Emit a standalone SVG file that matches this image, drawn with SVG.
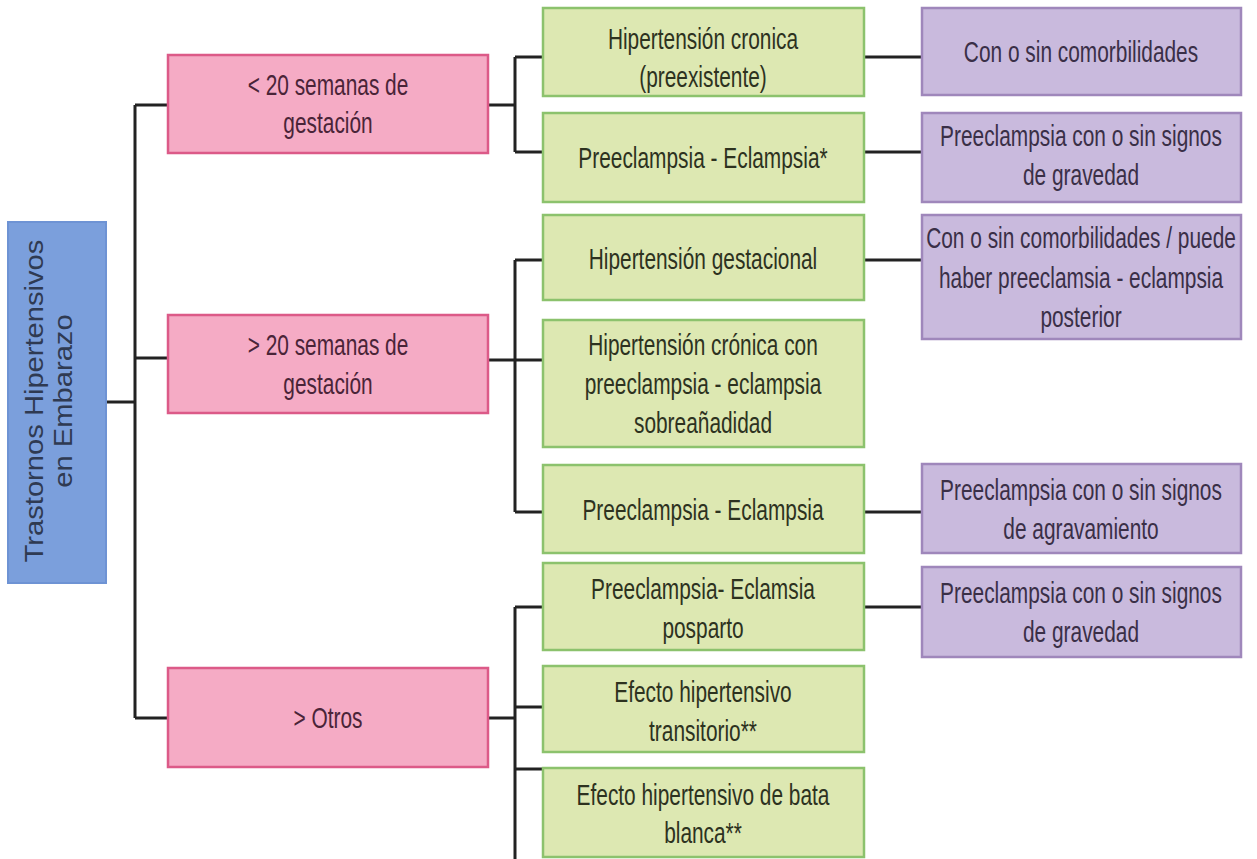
<svg xmlns="http://www.w3.org/2000/svg" width="1257" height="859" viewBox="0 0 1257 859">
<style>
.t{font-family:"Liberation Sans",Arial,sans-serif;font-size:29px;text-anchor:middle}
.blue{fill:#7b9fdc;stroke:#6e93d4;stroke-width:2}
.pink{fill:#f5abc5;stroke:#dc5a88;stroke-width:2.5}
.green{fill:#dde8b2;stroke:#8cc26d;stroke-width:2.5}
.purple{fill:#c9badd;stroke:#9f87bb;stroke-width:2.5}
.tb{fill:#2f3a52}
.tp{fill:#4a2438}
.tg{fill:#2d321f}
.tv{fill:#3a2f47}
.c{fill:none;stroke:#222;stroke-width:3}
</style>
<rect width="1257" height="859" fill="#ffffff"/>
<g id="connectors">
<path class="c" d="M106 402H135M135 105V718M135 105H168M135 358H168M135 718H168"/>
<path class="c" d="M488 105H515M515 57V152M515 57H543M515 152H543"/>
<path class="c" d="M488 360H543M515 260V512M515 260H543M515 512H543"/>
<path class="c" d="M488 718H515M515 607V859M515 607H543M515 707H543M515 769H543"/>
<path class="c" d="M864 57H922M864 152H922M864 260H922M864 512H922M864 607H922"/>
</g>
<g id="root">
<rect class="blue" x="8" y="222" width="98" height="361"/>
<text class="t tb" style="font-size:25px" transform="translate(0,401) rotate(-90) scale(1.166,1)"><tspan x="0" y="43">Trastornos Hipertensivos</tspan><tspan x="0" y="72">en Embarazo</tspan></text>
</g>
<g id="n-menos20">
<rect class="pink" x="168" y="55" width="320" height="98"/>
<text class="t tp" transform="translate(328,0) scale(0.72,1)"><tspan x="0" y="95">&lt; 20 semanas de</tspan><tspan x="0" y="133">gestación</tspan></text>
</g>
<g id="n-mas20">
<rect class="pink" x="168" y="315" width="320" height="98"/>
<text class="t tp" transform="translate(328,0) scale(0.72,1)"><tspan x="0" y="355">&gt; 20 semanas de</tspan><tspan x="0" y="394">gestación</tspan></text>
</g>
<g id="n-otros">
<rect class="pink" x="168" y="668" width="320" height="99"/>
<text class="t tp" transform="translate(328,0) scale(0.72,1)"><tspan x="0" y="728">&gt; Otros</tspan></text>
</g>
<g id="g-hcronica">
<rect class="green" x="543" y="8" width="321" height="88"/>
<text class="t tg" transform="translate(703,0) scale(0.72,1)"><tspan x="0" y="49">Hipertensión cronica</tspan><tspan x="0" y="87">(preexistente)</tspan></text>
</g>
<g id="g-pe1">
<rect class="green" x="543" y="113" width="321" height="89"/>
<text class="t tg" transform="translate(703,0) scale(0.72,1)"><tspan x="0" y="168">Preeclampsia - Eclampsia*</tspan></text>
</g>
<g id="g-hgest">
<rect class="green" x="543" y="215" width="321" height="85"/>
<text class="t tg" transform="translate(703,0) scale(0.72,1)"><tspan x="0" y="269">Hipertensión gestacional</tspan></text>
</g>
<g id="g-hcronica-pe">
<rect class="green" x="543" y="320" width="321" height="127"/>
<text class="t tg" transform="translate(703,0) scale(0.72,1)"><tspan x="0" y="355">Hipertensión crónica con</tspan><tspan x="0" y="394">preeclampsia - eclampsia</tspan><tspan x="0" y="433">sobreañadidad</tspan></text>
</g>
<g id="g-pe2">
<rect class="green" x="543" y="465" width="321" height="88"/>
<text class="t tg" transform="translate(703,0) scale(0.72,1)"><tspan x="0" y="520">Preeclampsia - Eclampsia</tspan></text>
</g>
<g id="g-posparto">
<rect class="green" x="543" y="563" width="321" height="87"/>
<text class="t tg" transform="translate(703,0) scale(0.72,1)"><tspan x="0" y="599">Preeclampsia- Eclamsia</tspan><tspan x="0" y="638">posparto</tspan></text>
</g>
<g id="g-transitorio">
<rect class="green" x="543" y="666" width="321" height="86"/>
<text class="t tg" transform="translate(703,0) scale(0.72,1)"><tspan x="0" y="702">Efecto hipertensivo</tspan><tspan x="0" y="741">transitorio**</tspan></text>
</g>
<g id="g-bata">
<rect class="green" x="543" y="768" width="321" height="89"/>
<text class="t tg" transform="translate(703,0) scale(0.72,1)"><tspan x="0" y="805">Efecto hipertensivo de bata</tspan><tspan x="0" y="843">blanca**</tspan></text>
</g>
<g id="p-comorb">
<rect class="purple" x="922" y="8" width="319" height="87"/>
<text class="t tv" transform="translate(1081,0) scale(0.72,1)"><tspan x="0" y="62">Con o sin comorbilidades</tspan></text>
</g>
<g id="p-grav1">
<rect class="purple" x="922" y="113" width="319" height="89"/>
<text class="t tv" transform="translate(1081,0) scale(0.72,1)"><tspan x="0" y="146">Preeclampsia con o sin signos</tspan><tspan x="0" y="185">de gravedad</tspan></text>
</g>
<g id="p-gest">
<rect class="purple" x="922" y="215" width="319" height="124"/>
<text class="t tv" transform="translate(1081,0) scale(0.72,1)"><tspan x="0" y="248">Con o sin comorbilidades / puede</tspan><tspan x="0" y="288">haber preeclamsia - eclampsia</tspan><tspan x="0" y="327">posterior</tspan></text>
</g>
<g id="p-agrav">
<rect class="purple" x="922" y="464" width="319" height="89"/>
<text class="t tv" transform="translate(1081,0) scale(0.72,1)"><tspan x="0" y="500">Preeclampsia con o sin signos</tspan><tspan x="0" y="539">de agravamiento</tspan></text>
</g>
<g id="p-grav2">
<rect class="purple" x="922" y="567" width="319" height="90"/>
<text class="t tv" transform="translate(1081,0) scale(0.72,1)"><tspan x="0" y="603">Preeclampsia con o sin signos</tspan><tspan x="0" y="642">de gravedad</tspan></text>
</g>
</svg>
